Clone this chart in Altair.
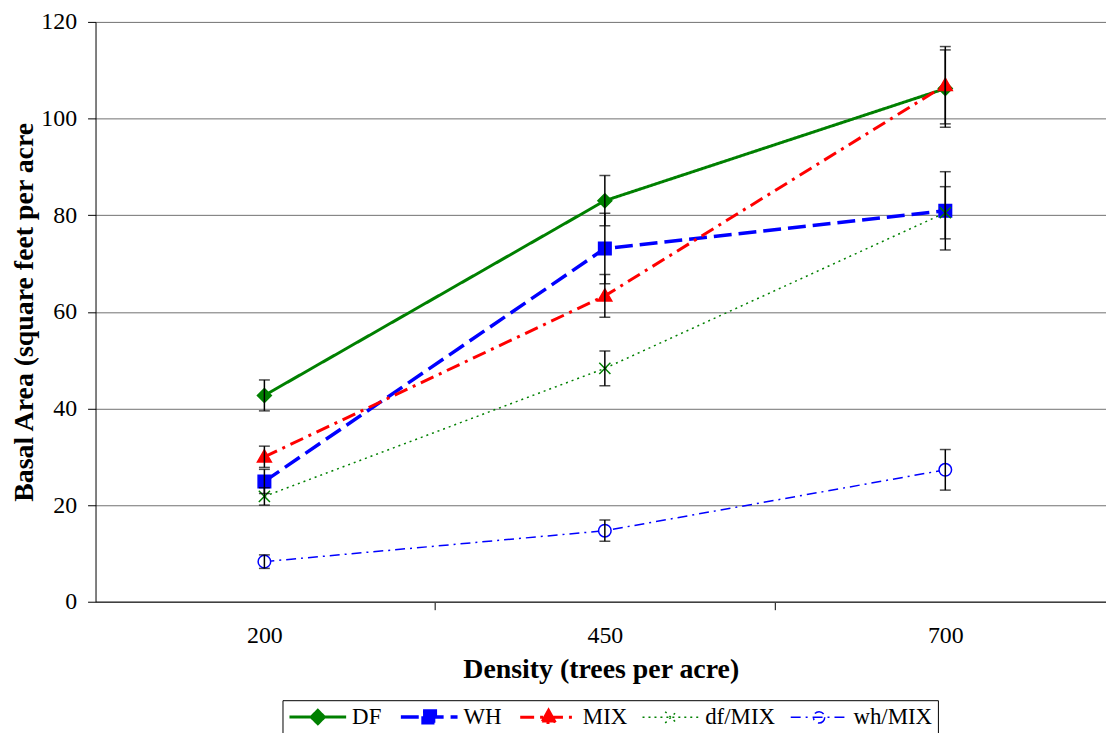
import altair as alt
import pandas as pd

# ---------------- data ----------------
density = [200, 450, 700]
series = ["DF", "WH", "MIX", "df/MIX", "wh/MIX"]

df_mean = [42.7, 83.0, 106.2]
df_err = [3.2, 5.2, 8.0]
wh_mean = [24.9, 73.1, 80.9]
wh_err = [2.5, 7.3, 8.1]
mix_mean = [30.0, 63.3, 106.9]
mix_err = [2.2, 4.4, 8.0]
dfmix_mean = [21.8, 48.3, 80.5]
dfmix_err = [1.8, 3.6, 5.4]
whmix_mean = [8.3, 14.7, 27.3]
whmix_err = [1.4, 2.2, 4.2]

y_ticks = [0, 20, 40, 60, 80, 100, 120]
x_axis_values = [200, 325, 450, 575, 700]

means = [df_mean, wh_mean, mix_mean, dfmix_mean, whmix_mean]
errs = [df_err, wh_err, mix_err, dfmix_err, whmix_err]

rows = []
for i, s in enumerate(series):
    for j, d in enumerate(density):
        rows.append({"series": s, "order": i, "density": d,
                     "value": means[i][j],
                     "lo": means[i][j] - errs[i][j],
                     "hi": means[i][j] + errs[i][j]})
data = pd.DataFrame(rows)

# ---------------- styles ----------------
GREEN, BLUE, RED = "#008000", "#0000FF", "#FF0000"
stroke_colors = [GREEN, BLUE, RED, GREEN, BLUE]
fill_colors = [GREEN, BLUE, RED, "transparent", "white"]
dashes = [[1, 0], [18, 7], [14, 6, 3, 6], [2, 4], [10, 5, 2, 5]]
widths = [3, 3.5, 3, 1.5, 1.5]
marker_paths = [
    "M0,-1L1,0L0,1L-1,0Z",
    "M-0.9,-0.9H0.9V0.9H-0.9Z",
    "M0,-1L1,0.75H-1Z",
    "M-0.8,-0.8L0.8,0.8M-0.8,0.8L0.8,-0.8",
    "M0.9,0A0.9,0.9 0 1,1 -0.9,0A0.9,0.9 0 1,1 0.9,0Z",
]
legend_paths = [
    "M-1,0H5M2,-0.7L2.7,0L2,0.7L1.3,0Z",
    "M-1,0H5M1.35,-0.62H2.65V0.62H1.35Z",
    "M-1,0H5M2,-0.75L2.72,0.55H1.28Z",
    "M-1,0H5M1.4,-0.6L2.6,0.6M1.4,0.6L2.6,-0.6",
    "M-1,0H5M2.6,0A0.6,0.6 0 1,1 1.4,0A0.6,0.6 0 1,1 2.6,0Z",
]

FONT = "Liberation Serif"

x_enc = alt.X(
    "density:Q",
    scale=alt.Scale(domain=[76, 818], nice=False, zero=False),
    axis=alt.Axis(
        values=x_axis_values,
        labelExpr="(datum.value == 325 || datum.value == 575) ? '' : datum.label",
        tickOpacity={"condition": {"test": "datum.value == 325 || datum.value == 575", "value": 1}, "value": 0},
        tickSize=8, tickColor="black", tickWidth=1,
        domainColor="#404040", domainWidth=1.5,
        grid=False,
        labelFont=FONT, labelFontSize=24, labelColor="black", labelPadding=14,
        title="Density (trees per acre)", titleFont=FONT, titleFontSize=28,
        titleFontWeight="bold", titleColor="black", titlePadding=8,
    ),
)
y_enc = alt.Y(
    "value:Q",
    scale=alt.Scale(domain=[0, 120], nice=False),
    axis=alt.Axis(
        values=y_ticks, grid=True, gridColor="#707070", gridWidth=1,
        tickSize=8, tickColor="black", domainColor="black", domainWidth=1,
        labelFont=FONT, labelFontSize=24, labelColor="black", labelPadding=11,
        title="Basal Area (square feet per acre", titleFont=FONT, titleFontSize=28,
        titleFontWeight="bold", titleColor="black", titlePadding=2,
    ),
)

stroke_scale = alt.Scale(domain=series, range=stroke_colors)
fill_scale = alt.Scale(domain=series, range=fill_colors)
dash_scale = alt.Scale(domain=series, range=dashes)
width_scale = alt.Scale(domain=series, range=widths, type="ordinal")
shape_scale = alt.Scale(domain=series, range=legend_paths)

base = alt.Chart(data)

line_layers = []
point_layers = []
for i, s in enumerate(series):
    sub = base.transform_filter(alt.datum.series == s)
    line_layers.append(
        sub.mark_line(stroke=stroke_colors[i], strokeDash=dashes[i],
                      strokeWidth=widths[i]).encode(x=x_enc, y=y_enc)
    )
    point_layers.append(
        sub.mark_point(
            size=196, opacity=1, shape=marker_paths[i], fill=fill_colors[i],
            stroke=stroke_colors[i], strokeWidth=1.5 if i < 3 else widths[i],
        ).encode(x=x_enc, y=y_enc)
    )

err_rules = base.mark_rule(color="black", strokeWidth=1.5).encode(
    x=x_enc, y=alt.Y("lo:Q"), y2="hi:Q"
)
err_lo = base.mark_tick(color="black", thickness=1.5, size=11, orient="horizontal").encode(
    x=x_enc, y=alt.Y("lo:Q")
)
err_hi = base.mark_tick(color="black", thickness=1.5, size=11, orient="horizontal").encode(
    x=x_enc, y=alt.Y("hi:Q")
)

# legend-only layer: draws no marks (empty after filter), scales carry explicit domains
legend_layer = base.transform_filter(alt.datum.value < 0).mark_point(size=361, opacity=1).encode(
    x=x_enc, y=y_enc,
    shape=alt.Shape("series:N", scale=shape_scale, title=None),
    stroke=alt.Stroke("series:N", scale=stroke_scale, title=None),
    fill=alt.Fill("series:N", scale=fill_scale, title=None),
    strokeDash=alt.StrokeDash("series:N", scale=dash_scale, title=None),
    strokeWidth=alt.StrokeWidth("series:N", scale=width_scale, title=None),
)

chart = alt.layer(*line_layers, *point_layers, err_rules, err_lo, err_hi, legend_layer).properties(
    width=1016, height=583,
    autosize=alt.AutoSizeParams(type="none"),
    padding={"left": 88, "top": 12, "right": 0, "bottom": 130},
    background="white",
).configure_view(stroke=None).configure_legend(
    orient="none", legendX=188, legendY=682,
    direction="horizontal", columns=5, columnPadding=12,
    strokeColor="black", padding=5, fillColor="white",
    labelFont=FONT, labelFontSize=23, labelColor="black",
    labelOffset=42, symbolSize=361, labelLimit=200, symbolOpacity=1,
)

chart.save("out.html", embed_options={"renderer": "svg", "actions": False})
